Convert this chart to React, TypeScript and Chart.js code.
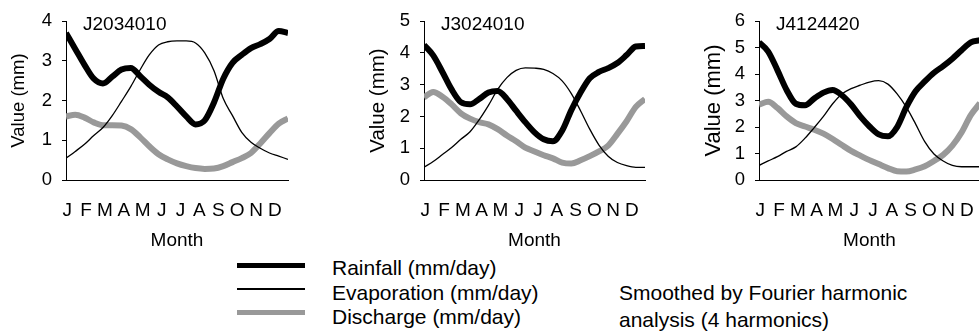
import React, { useEffect, useRef } from 'react';
import { Chart, registerables } from 'chart.js';

Chart.register(...registerables);

const FONT = '"Liberation Sans", Arial, Helvetica, sans-serif';
Chart.defaults.font.family = FONT;
Chart.defaults.color = '#000';

// ---------- data ----------
const MONTHS = ['J', 'F', 'M', 'A', 'M', 'J', 'J', 'A', 'S', 'O', 'N', 'D'];
// month index position (0 = start of January, 12 = end of December) of each sample
const X_MONTH = [0, 0.5, 1, 1.5, 2, 2.5, 3, 3.5, 4, 4.5, 5, 5.5, 6, 6.5, 7, 7.5, 8, 8.5, 9, 9.5, 10, 10.5, 11, 11.5, 12];
// where the month letters sit on the month axis
const MONTH_TICKS = [0.07, 1.09, 2.11, 3.13, 4.15, 5.17, 6.19, 7.21, 8.23, 9.25, 10.27, 11.29];

const STATIONS = ['J2034010', 'J3024010', 'J4124420'];
const Y_MAX = [4, 5, 6];

const RAIN_J2034010 = [3.70, 3.30, 2.90, 2.55, 2.43, 2.60, 2.78, 2.82, 2.62, 2.40, 2.22, 2.08, 1.85, 1.60, 1.40, 1.50, 1.95, 2.55, 2.95, 3.15, 3.32, 3.42, 3.55, 3.75, 3.70];
const EVAP_J2034010 = [0.55, 0.72, 0.90, 1.12, 1.32, 1.62, 1.98, 2.35, 2.77, 3.15, 3.40, 3.48, 3.50, 3.50, 3.45, 3.20, 2.75, 2.05, 1.62, 1.20, 0.95, 0.80, 0.68, 0.60, 0.52];
const DISC_J2034010 = [1.60, 1.64, 1.57, 1.45, 1.38, 1.38, 1.37, 1.28, 1.08, 0.85, 0.65, 0.52, 0.42, 0.35, 0.30, 0.28, 0.29, 0.35, 0.45, 0.55, 0.68, 0.92, 1.18, 1.42, 1.55];

const RAIN_J3024010 = [4.25, 3.92, 3.40, 2.85, 2.45, 2.38, 2.55, 2.75, 2.80, 2.55, 2.18, 1.82, 1.50, 1.28, 1.22, 1.55, 2.20, 2.75, 3.20, 3.40, 3.52, 3.68, 3.93, 4.20, 4.22];
const EVAP_J3024010 = [0.40, 0.58, 0.80, 1.02, 1.28, 1.52, 1.90, 2.35, 2.85, 3.22, 3.45, 3.53, 3.52, 3.48, 3.35, 3.12, 2.72, 2.18, 1.60, 1.10, 0.75, 0.55, 0.45, 0.40, 0.40];
const DISC_J3024010 = [2.60, 2.77, 2.62, 2.38, 2.10, 1.93, 1.82, 1.75, 1.60, 1.40, 1.22, 1.02, 0.90, 0.78, 0.68, 0.55, 0.52, 0.62, 0.75, 0.90, 1.08, 1.45, 1.85, 2.30, 2.55];

const RAIN_J4124420 = [5.20, 4.85, 4.15, 3.40, 2.88, 2.82, 3.08, 3.30, 3.40, 3.20, 2.85, 2.40, 2.02, 1.72, 1.65, 2.00, 2.75, 3.35, 3.72, 4.05, 4.30, 4.58, 4.90, 5.20, 5.28];
const EVAP_J4124420 = [0.55, 0.72, 0.88, 1.08, 1.25, 1.58, 1.98, 2.40, 2.88, 3.25, 3.45, 3.58, 3.70, 3.75, 3.62, 3.25, 2.75, 2.12, 1.45, 0.98, 0.72, 0.55, 0.50, 0.50, 0.50];
const DISC_J4124420 = [2.85, 2.95, 2.72, 2.40, 2.15, 2.02, 1.90, 1.75, 1.55, 1.32, 1.10, 0.92, 0.75, 0.60, 0.45, 0.33, 0.32, 0.40, 0.52, 0.72, 0.95, 1.30, 1.80, 2.45, 2.90];

const RAIN = [RAIN_J2034010, RAIN_J3024010, RAIN_J4124420];
const EVAP = [EVAP_J2034010, EVAP_J3024010, EVAP_J4124420];
const DISC = [DISC_J2034010, DISC_J3024010, DISC_J4124420];

const SERIES_NAMES = ['Rainfall (mm/day)', 'Evaporation (mm/day)', 'Discharge (mm/day)'];
const NOTE_LINES = ['Smoothed by Fourier harmonic', 'analysis (4 harmonics)'];

// ---------- styles / layout ----------
const GREY = '#999999';
const PANEL_LEFT = [0, 358, 693];
const PANEL_WIDTH = [292, 291, 291];
const PANEL_HEIGHT = 256;
const Y_TITLE_SIZE = [18.5, 20.5, 22];

const stationLabel = {
  id: 'stationLabel',
  afterDraw(chart: any, _args: any, opts: any) {
    const { ctx, chartArea } = chart;
    ctx.save();
    ctx.font = `19px ${FONT}`;
    ctx.fillStyle = '#000';
    ctx.textBaseline = 'alphabetic';
    ctx.textAlign = 'left';
    ctx.fillText(opts.text, chartArea.left + 17, 30);
    ctx.restore();
  },
};

function Panel({ idx }: { idx: number }) {
  const ref = useRef<HTMLCanvasElement | null>(null);
  useEffect(() => {
    if (!ref.current) return;
    const toPts = (arr: number[]) => arr.map((v, i) => ({ x: X_MONTH[i], y: v }));
    const chart = new Chart(ref.current, {
      type: 'line',
      data: {
        datasets: [
          { label: SERIES_NAMES[0], data: toPts(RAIN[idx]), borderColor: '#000', borderWidth: 6, pointRadius: 0, cubicInterpolationMode: 'monotone', borderJoinStyle: 'round', fill: false },
          { label: SERIES_NAMES[1], data: toPts(EVAP[idx]), borderColor: '#000', borderWidth: 1.3, pointRadius: 0, cubicInterpolationMode: 'monotone', fill: false },
          { label: SERIES_NAMES[2], data: toPts(DISC[idx]), borderColor: GREY, borderWidth: 6, pointRadius: 0, cubicInterpolationMode: 'monotone', borderJoinStyle: 'round', fill: false },
        ],
      },
      options: {
        responsive: false,
        maintainAspectRatio: false,
        animation: false,
        events: [],
        layout: { padding: { left: 0, right: 4, top: 21, bottom: 0 } },
        plugins: {
          legend: { display: false },
          tooltip: { enabled: false },
          stationLabel: { text: STATIONS[idx] },
        } as any,
        scales: {
          x: {
            type: 'linear',
            min: 0,
            max: 12,
            afterBuildTicks: (s: any) => {
              s.ticks = MONTH_TICKS.map((v) => ({ value: v }));
            },
            afterFit: (s: any) => {
              s.height = PANEL_HEIGHT - 180;
              s.paddingLeft = 0;
              s.paddingRight = 0;
            },
            ticks: {
              autoSkip: false,
              maxRotation: 0,
              padding: 19,
              color: '#000',
              font: { size: 19 },
              callback: (_v: any, i: number) => MONTHS[i],
            },
            grid: { display: false, drawTicks: false },
            border: { display: true, color: '#000', width: 1 },
            title: { display: true, text: 'Month', color: '#000', font: { size: 19 }, padding: { top: 0, bottom: 4 } },
          },
          y: {
            min: 0,
            max: Y_MAX[idx],
            afterFit: (s: any) => {
              s.width = 66;
            },
            ticks: { stepSize: 1, padding: 10, color: '#000', font: { size: 18.5 } },
            grid: { drawOnChartArea: false, drawTicks: true, tickLength: 4, color: '#000' },
            border: { display: true, color: '#000', width: 1 },
            title: { display: true, text: 'Value (mm)', color: '#000', font: { size: Y_TITLE_SIZE[idx] }, padding: { top: 8, bottom: 0 } },
          },
        },
      } as any,
      plugins: [stationLabel],
    });
    return () => chart.destroy();
  }, [idx]);
  return (
    <canvas
      ref={ref}
      width={PANEL_WIDTH[idx]}
      height={PANEL_HEIGHT}
      style={{ position: 'absolute', left: PANEL_LEFT[idx], top: 0, width: PANEL_WIDTH[idx], height: PANEL_HEIGHT }}
    />
  );
}

const textStyle: React.CSSProperties = {
  position: 'absolute',
  fontFamily: FONT,
  fontSize: 21,
  lineHeight: '23px',
  whiteSpace: 'nowrap',
  color: '#000',
};

export default function App() {
  const legendLine = (top: number, h: number, color: string): React.CSSProperties => ({
    position: 'absolute', left: 237, width: 68, top, height: h, background: color,
  });
  return (
    <div style={{ position: 'absolute', left: 0, top: 0, width: 979, height: 332, overflow: 'hidden', background: '#fff' }}>
      {[0, 1, 2].map((i) => (
        <Panel key={i} idx={i} />
      ))}
      <div style={legendLine(262.5, 5, '#000')} />
      <div style={legendLine(288, 2, '#000')} />
      <div style={legendLine(310, 5, GREY)} />
      <div style={{ ...textStyle, left: 332, top: 256 }}>{SERIES_NAMES[0]}</div>
      <div style={{ ...textStyle, left: 332, top: 281 }}>{SERIES_NAMES[1]}</div>
      <div style={{ ...textStyle, left: 332, top: 304.5 }}>{SERIES_NAMES[2]}</div>
      <div style={{ ...textStyle, left: 619, top: 281 }}>{NOTE_LINES[0]}</div>
      <div style={{ ...textStyle, left: 619, top: 307.5 }}>{NOTE_LINES[1]}</div>
    </div>
  );
}
